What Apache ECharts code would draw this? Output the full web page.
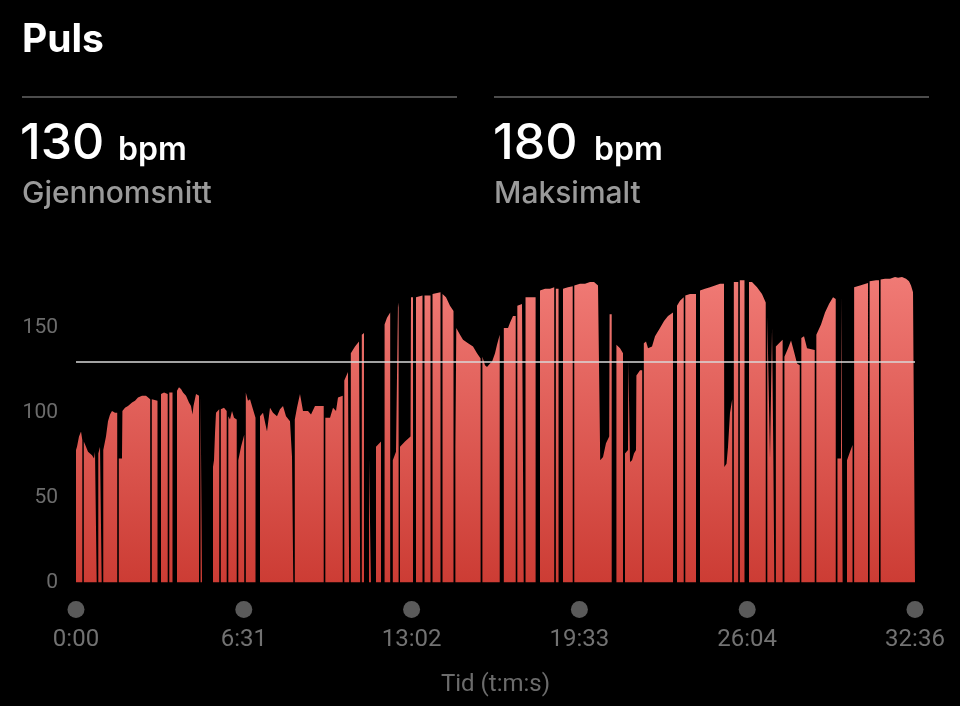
<!DOCTYPE html>
<html><head><meta charset="utf-8">
<script src="https://cdn.jsdelivr.net/npm/echarts@6/dist/echarts.min.js"></script>
<style>html,body{margin:0;padding:0;background:#000;}#c{width:960px;height:706px;}</style>
</head><body><div id="c"></div>
<script>
// Heart rate samples: [seconds, bpm]; null = sensor dropout
const pulseA = [[0,78],[2.3,80],[7.0,86],[11.7,89],[14.7,84],[16.3,null],[18.2,83],[23.3,80],[28.0,77],[32.6,76],[37.3,75],[42.0,73],[44.3,77],[48.3,76],[50.1,null],[52.0,76],[56.0,80],[59.9,81],[61.8,null],[63.6,78],[69.9,86],[74.6,95],[79.3,99],[83.9,101],[90.9,100],[96.1,100],[97.9,null],[99.8,73],[107.2,73],[108.2,101],[114.2,103],[121.2,104],[130.6,106],[137.6,107],[144.5,109],[153.9,110],[163.2,110],[173.0,108],[174.9,null],[176.7,108],[190.0,107],[194.7,null],[198.2,111],[205.2,112],[213.8,111],[215.7,null],[217.5,112],[225.0,112],[230.8,null],[235.5,113],[240.1,115],[244.8,114],[249.5,112],[256.5,110],[263.4,106],[268.1,104],[271.6,99],[273.9,104],[279.8,111],[286.8,110],[288.6,null],[290.4,111],[293.8,110],[305.4,null]];
const pulseB = [[319.4,68],[321.7,72],[324.1,88],[326.4,100],[333.9,102],[335.7,null],[337.6,102],[345.0,103],[351.3,101],[353.2,null],[355.1,98],[359.0,96],[363.7,101],[368.4,97],[374.7,96],[376.5,null],[378.4,72],[384.7,80],[392.2,87],[394.0,null],[395.9,112],[401.0,107],[405.7,108],[410.3,104],[418.5,97],[424.3,null],[429.0,98],[436.0,100],[445.3,89],[452.3,103],[459.3,100],[468.6,98],[475.6,102],[482.6,104],[489.6,98],[498.9,95],[503.6,74],[506.6,74],[508.2,null],[510.1,96],[515.2,103],[522.2,111],[529.2,101],[540.9,101],[547.9,99],[557.2,104],[568.9,104],[577.5,104],[579.4,null],[581.3,97],[592.2,97],[599.2,103],[606.2,101],[610.8,109],[621.8,110],[623.7,null],[625.5,119],[634.1,124],[636.9,124],[638.8,null],[640.7,135],[650.5,139],[659.8,142],[662.6,142],[664.5,null],[666.3,146],[671.4,147],[676.1,null]];
const pulseC = [[683.1,73],[687.7,73],[692.4,null],[699.4,80],[711.1,83],[715.7,null],[719.4,152],[725.0,156],[732.5,159],[735.6,null],[738.6,72],[746.0,77],[749.8,78],[750.7,165],[752.1,162],[753.7,null],[755.4,80],[767.0,83],[779.9,86],[781.0,168],[785.7,168],[789.2,null],[792.7,168],[807.8,169],[810.2,null],[812.5,169],[826.5,169],[828.8,null],[831.2,170],[849.8,171],[852.2,null],[854.5,170],[862.6,168],[871.9,163],[880.1,160],[882.4,null],[884.5,80],[886.6,150],[895.3,146],[902.3,143],[914.0,141],[925.6,139],[934.9,135],[943.3,132],[945.4,null],[947.5,133],[953.5,128],[958.2,127],[965.2,129],[969.9,130],[976.9,135],[981.5,140],[987.8,146],[992.7,null],[997.4,150],[1007.2,150],[1011.8,153],[1018.8,157],[1025.1,157],[1027.0,null],[1028.9,163],[1039.8,164],[1043.8,164],[1045.6,null],[1048.0,168],[1058.5,168],[1071.5,168],[1076.7,null],[1081.8,172],[1093.5,173],[1105.1,173],[1114.9,174],[1116.8,null],[1118.7,173],[1125.0,173],[1130.3,null],[1135.4,173],[1147.0,174],[1158.0,174.5],[1159.9,null],[1161.7,175],[1175.0,176],[1186.7,176],[1198.3,177],[1207.7,177],[1217.0,175],[1220.7,174]];
const pulseD = [[1222.1,72],[1228.7,74],[1235.6,82],[1243.1,86],[1244.0,158],[1248.9,158],[1254.3,null],[1259.9,140],[1268.3,138],[1275.3,135],[1277.6,null],[1279.9,76],[1286.9,78],[1287.8,131],[1290.4,131],[1291.6,71],[1296.3,72],[1300.9,76],[1305.6,78],[1306.5,122],[1315.0,125],[1320.0,125],[1321.9,null],[1323.8,141],[1328.9,142],[1333.6,138],[1342.9,139],[1349.9,145],[1361.5,150],[1370.9,154],[1380.2,157],[1391.8,159],[1396.5,null],[1401.1,163],[1408.1,166],[1416.8,168],[1418.7,null],[1420.5,169],[1431.5,170],[1445.5,170],[1450.1,null],[1454.8,172],[1466.4,173],[1478.1,174],[1489.8,175],[1501.4,176],[1510.7,176],[1511.4,68],[1516.6,70],[1520.1,80],[1524.7,100],[1529.9,108],[1531.7,null],[1533.6,177],[1543.9,177],[1545.8,null],[1547.6,178],[1558.5,178],[1564.4,null],[1569.0,177],[1576.0,177],[1587.7,174],[1599.3,170],[1608.0,165],[1609.9,null],[1611.7,157],[1615.7,156],[1618.0,73],[1622.0,73],[1622.7,150],[1625.0,149],[1625.8,73],[1628.1,73],[1629.7,null]];
const pulseE = [[1631.6,139],[1639.0,141],[1647.4,143],[1649.5,null],[1651.6,133],[1660.0,138],[1667.0,142.5],[1674.0,136],[1681.0,129],[1687.3,128],[1689.2,null],[1691.0,144],[1697.3,145],[1704.3,138],[1722.2,137],[1724.1,null],[1726.0,146],[1736.9,152],[1746.2,159],[1755.5,164],[1764.9,168],[1771.2,167],[1773.1,null],[1775.2,73],[1783.5,73],[1784.2,170],[1787.3,170],[1792.4,null],[1797.5,72],[1804.5,77],[1810.4,81],[1812.2,null],[1814.1,174],[1827.8,175],[1846.5,176.5],[1848.3,null],[1850.2,177.5],[1865.1,178],[1872.1,178],[1874.0,null],[1875.8,178.5],[1886.1,179],[1897.8,179],[1909.4,180],[1916.4,179.5],[1925.7,180],[1935.1,179],[1942.0,177.5],[1946.7,175],[1951.4,171],[1956,170]];

const pulse = pulseA.concat(pulseB, pulseC, pulseD, pulseE);
const durationSec = 1956;
const xTickLabels = ['0:00','6:31','13:02','19:33','26:04','32:36'];
const yTickValues = [0, 50, 100, 150];
const avgBpm = 130;
const maxBpm = 180;

const chart = echarts.init(document.getElementById('c'), null, {renderer:'canvas'});
const sans = 'Inter, "Noto Sans", Roboto, sans-serif';
chart.setOption({
  backgroundColor:'#000000',
  animation:false,
  graphic:[
    {type:'text', left:22, top:21, style:{text:'Puls', fill:'#ffffff', font:'700 39px ' + sans}},
    {type:'rect', shape:{x:22, y:96, width:435, height:2}, style:{fill:'#4c4c4c'}},
    {type:'rect', shape:{x:494, y:96, width:435, height:2}, style:{fill:'#4c4c4c'}},
    {type:'text', left:20, top:119, style:{text:String(avgBpm), fill:'#ffffff', font:'500 50px ' + sans}},
    {type:'text', left:118, top:134, style:{text:'bpm', fill:'#ffffff', font:'600 32px ' + sans}},
    {type:'text', left:22, top:179, style:{text:'Gjennomsnitt', fill:'#9a9a9a', font:'500 30px ' + sans}},
    {type:'text', left:493, top:119, style:{text:String(maxBpm), fill:'#ffffff', font:'500 50px ' + sans}},
    {type:'text', left:594, top:134, style:{text:'bpm', fill:'#ffffff', font:'600 32px ' + sans}},
    {type:'text', left:494, top:179, style:{text:'Maksimalt', fill:'#9a9a9a', font:'500 30px ' + sans}}
  ],
  grid:{left:76, right:45, top:243, bottom:123.5, containLabel:false},
  xAxis:{
    type:'value', min:0, max:durationSec, interval:durationSec/5,
    axisLine:{show:false}, axisTick:{show:false}, splitLine:{show:false},
    axisLabel:{
      margin:16,
      formatter:function(v, i){ return '{d|}\n{t|' + (xTickLabels[i] || '') + '}'; },
      rich:{
        d:{width:17, height:17, borderRadius:8.5, backgroundColor:'#5a5a5a', lineHeight:22},
        t:{fontSize:24, color:'#727272', lineHeight:38, fontFamily:'Roboto'}
      }
    },
    name:'Tid (t:m:s)', nameLocation:'middle', nameGap:90,
    nameTextStyle:{color:'#6c6c6c', fontSize:24, fontFamily:'Roboto'}
  },
  yAxis:{
    type:'value', min:0, max:200, interval:50,
    axisLine:{show:false}, axisTick:{show:false}, splitLine:{show:false},
    axisLabel:{
      margin:18, color:'#6c6c6c', fontSize:21, fontFamily:'Roboto',
      formatter:function(v){ return yTickValues.indexOf(v) >= 0 ? String(v) : ''; }
    }
  },
  series:[{
    type:'line', data:pulse, symbol:'none', showSymbol:false, connectNulls:false,
    lineStyle:{width:0, opacity:0},
    areaStyle:{opacity:1, color:new echarts.graphic.LinearGradient(0,0,0,1,[
      {offset:0, color:'#f07a75'},{offset:1, color:'#cc3c34'}])},
    markLine:{silent:true, symbol:'none', label:{show:false},
      lineStyle:{color:'#d8d8d8', width:1.5, type:'solid'},
      data:[{yAxis:avgBpm}]}
  }]
});
</script></body></html>
